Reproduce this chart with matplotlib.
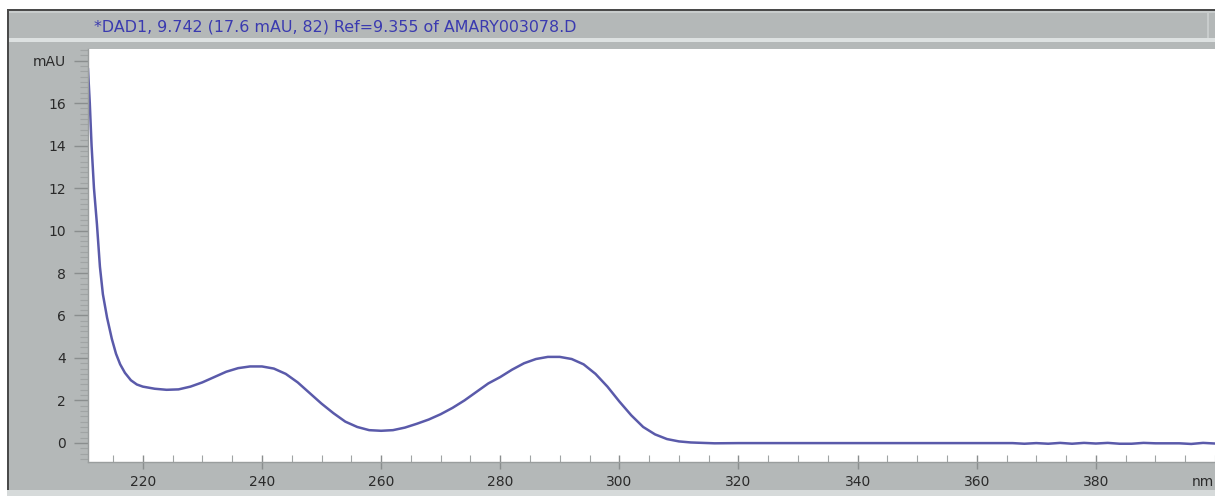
import matplotlib
matplotlib.use("Agg")
import matplotlib.pyplot as plt
from matplotlib.patches import Rectangle
from matplotlib.ticker import MultipleLocator, FixedLocator
import numpy as np

# ---- data ----
wavelength_nm = [210.8, 211.1, 211.4, 211.8, 212.3, 212.8, 213.3, 214, 214.8, 215.5, 216.2, 217, 218, 219, 220,
                 222, 224, 226, 228, 230, 232, 234, 236, 238, 240, 242, 244, 246, 248, 250,
                 252, 254, 256, 258, 260, 262, 264, 266, 268, 270, 272, 274, 276, 278, 280,
                 282, 284, 286, 288, 290, 292, 294, 296, 298, 300, 302, 304, 306, 308, 310,
                 312, 314, 316, 320, 330, 340, 350, 360, 366, 368, 370, 372, 374, 376, 378,
                 380, 382, 384, 386, 388, 390, 392, 394, 396, 398, 400]
absorbance_mau = [17.6, 16.0, 14.0, 12.0, 10.3, 8.3, 7.0, 5.9, 4.9, 4.2, 3.7, 3.3, 2.95, 2.75, 2.65,
                  2.55, 2.5, 2.52, 2.65, 2.85, 3.1, 3.35, 3.52, 3.6, 3.6, 3.5, 3.25, 2.85, 2.35, 1.85,
                  1.4, 1.0, 0.75, 0.6, 0.57, 0.6, 0.72, 0.9, 1.1, 1.35, 1.65, 2.0, 2.4, 2.8, 3.1,
                  3.45, 3.75, 3.95, 4.05, 4.05, 3.95, 3.7, 3.25, 2.65, 1.95, 1.3, 0.75, 0.4, 0.18, 0.07,
                  0.02, 0.0, -0.02, -0.01, -0.01, -0.01, -0.01, -0.01, -0.01, -0.04, -0.01, -0.04, 0.0, -0.04, 0.0,
                  -0.03, 0.0, -0.04, -0.04, 0.0, -0.02, -0.02, -0.02, -0.05, 0.0, -0.03]

x_major_ticks = [220, 240, 260, 280, 300, 320, 340, 360, 380]
x_tick_labels = ["220", "240", "260", "280", "300", "320", "340", "360", "380"]
y_major_ticks = [0, 2, 4, 6, 8, 10, 12, 14, 16, 18]
y_tick_labels = ["0", "2", "4", "6", "8", "10", "12", "14", "16", "mAU"]
title_text = "*DAD1, 9.742 (17.6 mAU, 82) Ref=9.355 of AMARY003078.D"
x_unit = "nm"

W, H = 1215, 496
fig = plt.figure(figsize=(W / 100, H / 100), dpi=100)
fig.patch.set_facecolor("white")

def px_rect(x0, y0, x1, y1, color, z=0):
    fig.patches.append(Rectangle((x0 / W, 1 - y1 / H), (x1 - x0) / W, (y1 - y0) / H,
                                 transform=fig.transFigure, facecolor=color,
                                 edgecolor="none", zorder=z))

gray = "#b4b8b8"
px_rect(7, 9, W, 490, gray)             # main gray panel
px_rect(7, 9, W, 11, "#4a4a4a")          # top dark line
px_rect(7, 9, 9, 490, "#4a4a4a")         # left dark line
px_rect(9, 38, W, 42, "#dde1e1")         # light line under title bar
px_rect(9, 11, W, 13, "#c8cccc")
px_rect(7, 490, W, H, "#d6dada")         # bottom light strip
px_rect(1207, 11, 1209, 38, "#c8cccc")

fig.text(335 / W, 1 - 27 / H, title_text, ha="center", va="center",
         fontsize=11.4, color="#3a3ab0", family="DejaVu Sans", zorder=10)

ax = fig.add_axes([88 / W, 1 - 462 / H, (W - 88) / W, (462 - 49) / H])
ax.set_zorder(5)
ax.set_facecolor("white")
ax.plot(wavelength_nm, absorbance_mau, color="#5a5aaa", lw=1.8, solid_joinstyle="round")
ax.set_xlim(210.8, 400)
ax.set_ylim(-0.9, 18.55)

for s in ["top", "right"]:
    ax.spines[s].set_visible(False)
ax.spines["left"].set_color("#9a9e9e")
ax.spines["bottom"].set_color("#9a9e9e")
ax.spines["left"].set_linewidth(1.0)
ax.spines["bottom"].set_linewidth(1.0)

ax.xaxis.set_major_locator(FixedLocator(x_major_ticks))
ax.set_xticklabels(x_tick_labels)
ax.xaxis.set_minor_locator(MultipleLocator(5))
ax.yaxis.set_major_locator(FixedLocator(y_major_ticks))
ax.set_yticklabels(y_tick_labels)
ax.yaxis.set_minor_locator(MultipleLocator(0.25))

ax.tick_params(axis="x", which="major", direction="inout", length=10, width=1.0,
               color="#8a8e8e", labelsize=10, labelcolor="#2a2a2a", pad=4)
ax.tick_params(axis="x", which="minor", direction="in", length=5, width=0.8, color="#a0a4a4")
ax.tick_params(axis="y", which="major", direction="out", length=10, width=1.0,
               color="#8a8e8e", labelsize=10, labelcolor="#2a2a2a", pad=6)
ax.tick_params(axis="y", which="minor", direction="out", length=6, width=0.8, color="#a0a4a4")
for lab in ax.get_xticklabels() + ax.get_yticklabels():
    lab.set_family("DejaVu Sans")

fig.text(1192 / W, 1 - 482 / H, x_unit, ha="left", va="center", fontsize=10,
         color="#2a2a2a", family="DejaVu Sans", zorder=10)

fig.savefig("out.png", dpi=100)
